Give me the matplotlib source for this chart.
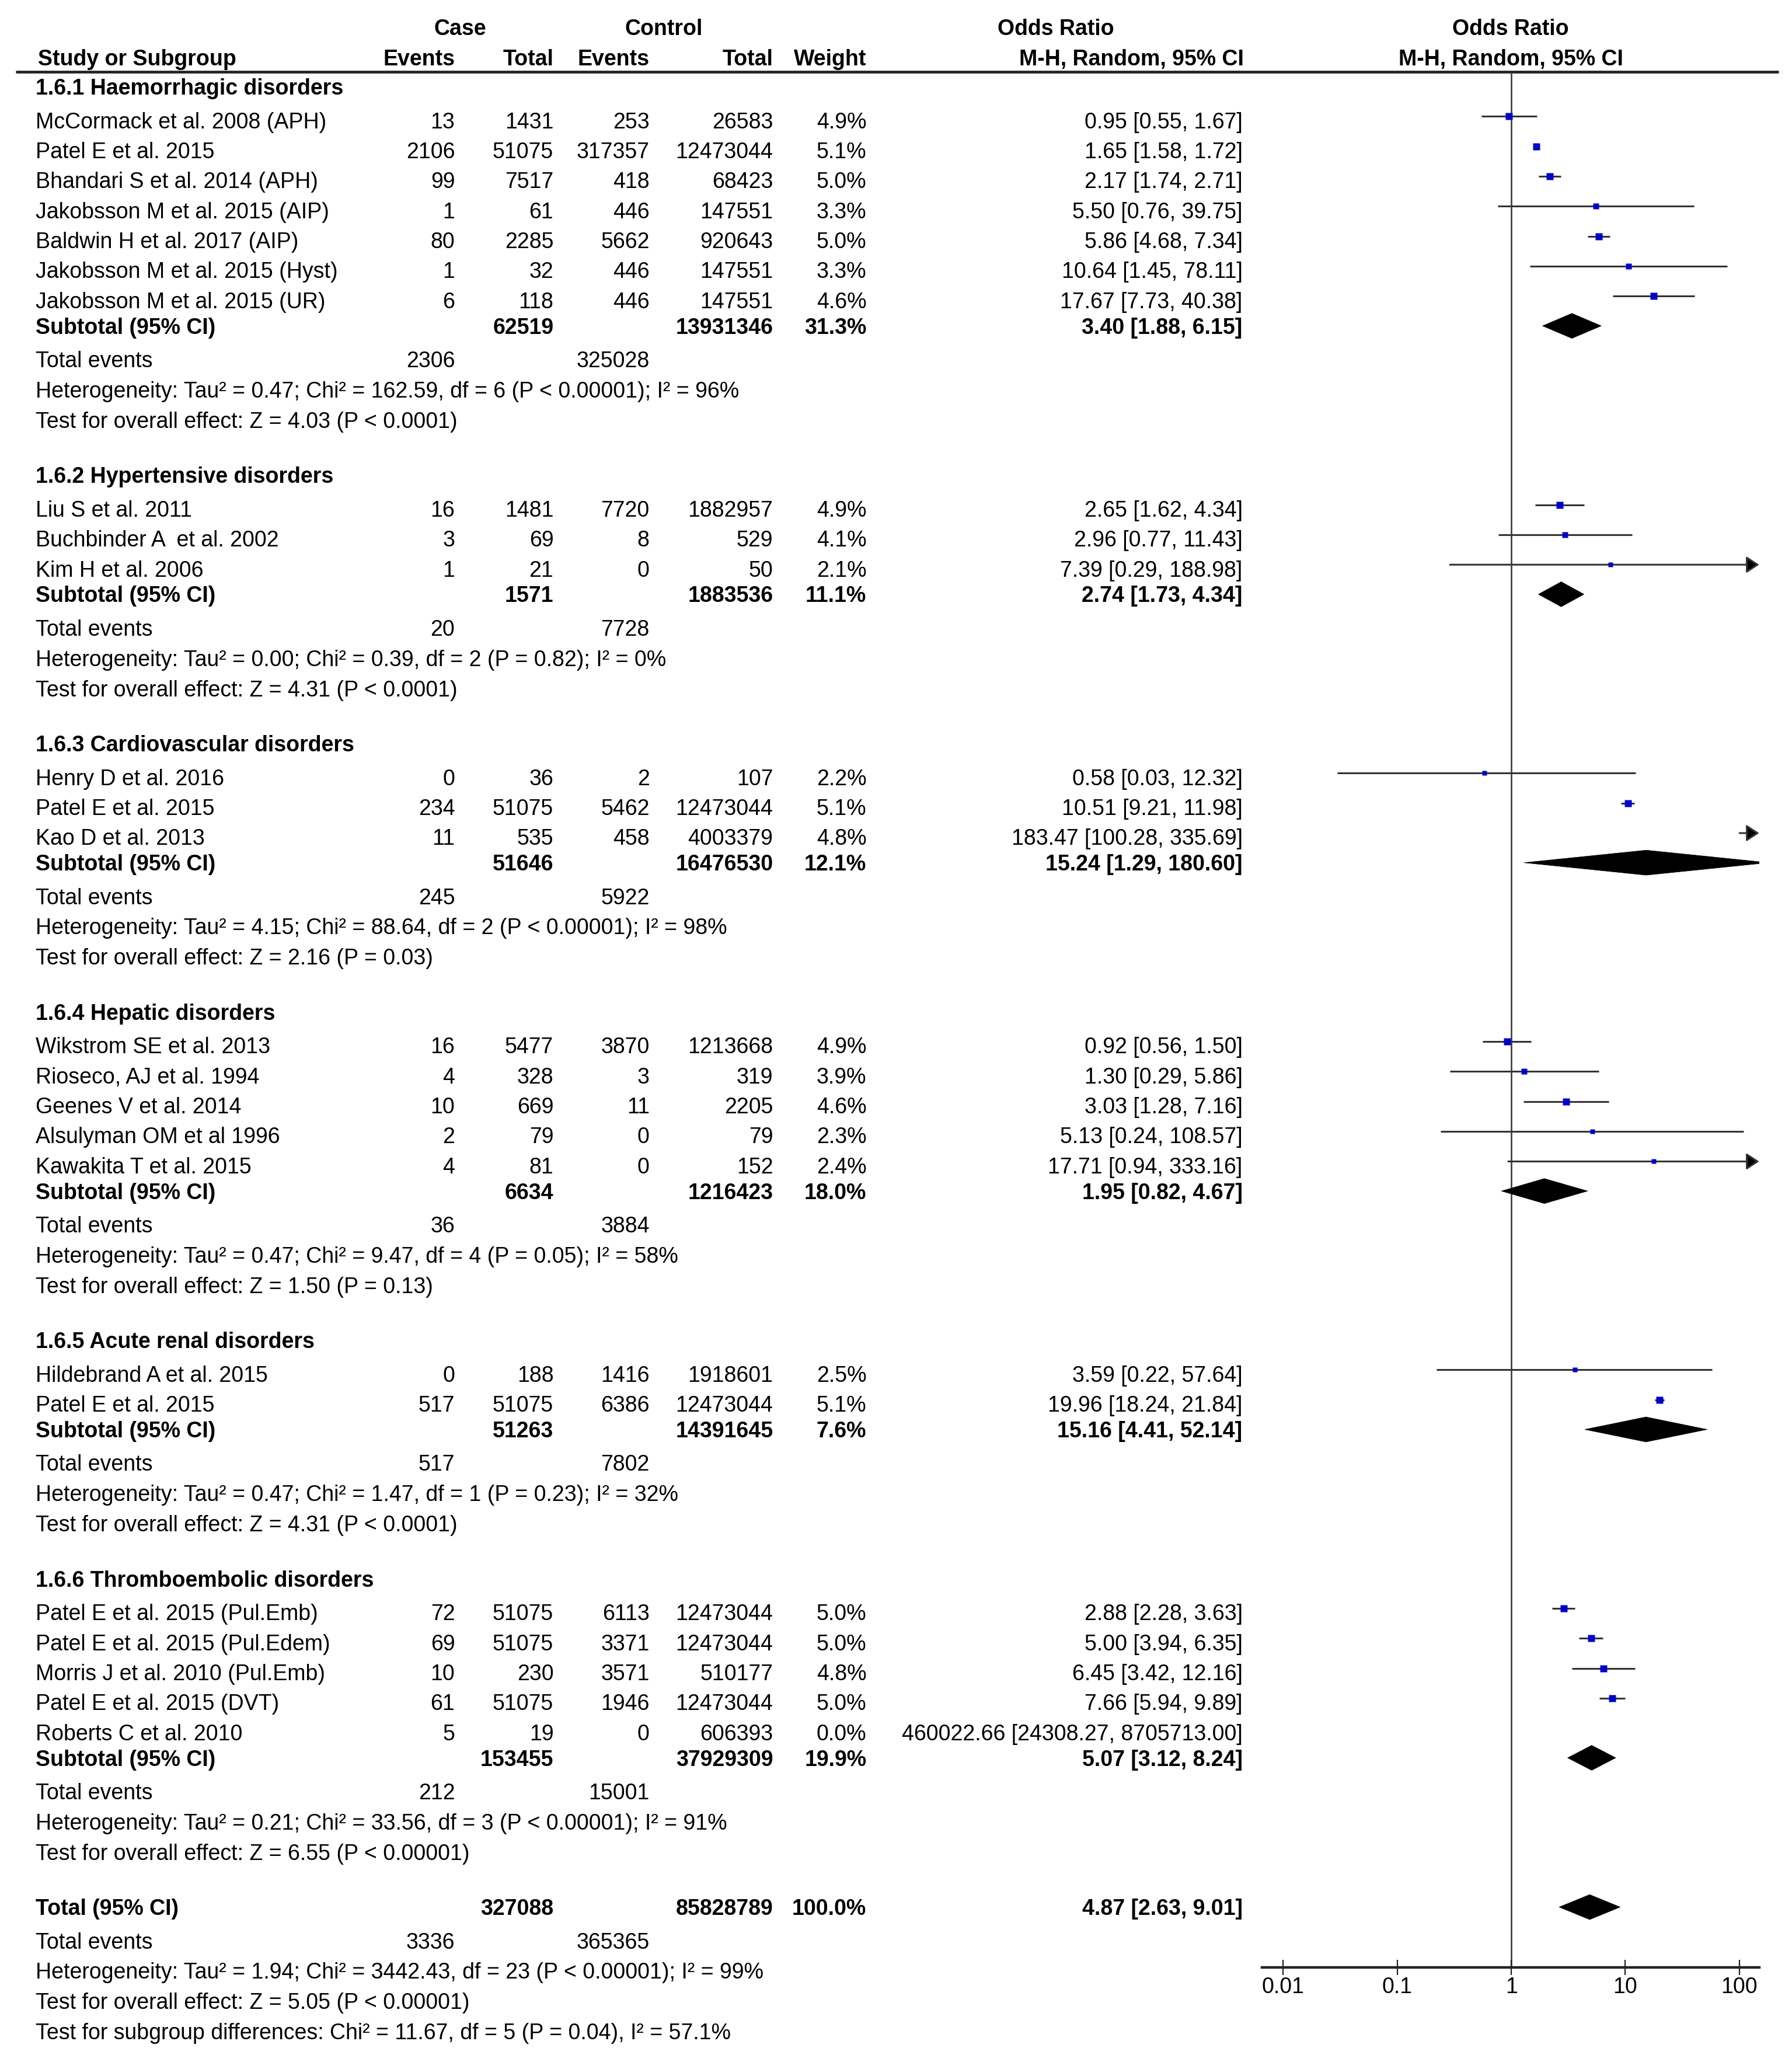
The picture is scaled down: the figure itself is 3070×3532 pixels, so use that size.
import numpy as np
import matplotlib
matplotlib.use("Agg")
import matplotlib.pyplot as plt
from matplotlib.patches import Polygon

plt.rcParams["font.family"] = ["Liberation Sans", "DejaVu Sans"]

# =============================================================================
# data
# =============================================================================
group_titles = [
    "1.6.1 Haemorrhagic disorders",
    "1.6.2 Hypertensive disorders",
    "1.6.3 Cardiovascular disorders",
    "1.6.4 Hepatic disorders",
    "1.6.5 Acute renal disorders",
    "1.6.6 Thromboembolic disorders",
]
study_group = [0] * 7 + [1] * 3 + [2] * 3 + [3] * 5 + [4] * 2 + [5] * 5
study_names = [
    "McCormack et al. 2008 (APH)", "Patel E et al. 2015", "Bhandari S et al. 2014 (APH)",
    "Jakobsson M et al. 2015 (AIP)", "Baldwin H et al. 2017 (AIP)",
    "Jakobsson M et al. 2015 (Hyst)", "Jakobsson M et al. 2015 (UR)",
    "Liu S et al. 2011", "Buchbinder A  et al. 2002", "Kim H et al. 2006",
    "Henry D et al. 2016", "Patel E et al. 2015", "Kao D et al. 2013",
    "Wikstrom SE et al. 2013", "Rioseco, AJ et al. 1994", "Geenes V et al. 2014",
    "Alsulyman OM et al 1996", "Kawakita T et al. 2015",
    "Hildebrand A et al. 2015", "Patel E et al. 2015",
    "Patel E et al. 2015 (Pul.Emb)", "Patel E et al. 2015 (Pul.Edem)",
    "Morris J et al. 2010 (Pul.Emb)", "Patel E et al. 2015 (DVT)", "Roberts C et al. 2010",
]
case_events = [13, 2106, 99, 1, 80, 1, 6, 16, 3, 1, 0, 234, 11, 16, 4, 10, 2, 4,
               0, 517, 72, 69, 10, 61, 5]
case_total = [1431, 51075, 7517, 61, 2285, 32, 118, 1481, 69, 21, 36, 51075, 535,
              5477, 328, 669, 79, 81, 188, 51075, 51075, 51075, 230, 51075, 19]
ctrl_events = [253, 317357, 418, 446, 5662, 446, 446, 7720, 8, 0, 2, 5462, 458,
               3870, 3, 11, 0, 0, 1416, 6386, 6113, 3371, 3571, 1946, 0]
ctrl_total = [26583, 12473044, 68423, 147551, 920643, 147551, 147551, 1882957, 529, 50,
              107, 12473044, 4003379, 1213668, 319, 2205, 79, 152, 1918601, 12473044,
              12473044, 12473044, 510177, 12473044, 606393]
weight = [4.9, 5.1, 5.0, 3.3, 5.0, 3.3, 4.6, 4.9, 4.1, 2.1, 2.2, 5.1, 4.8,
          4.9, 3.9, 4.6, 2.3, 2.4, 2.5, 5.1, 5.0, 5.0, 4.8, 5.0, 0.0]
or_est = [0.95, 1.65, 2.17, 5.50, 5.86, 10.64, 17.67, 2.65, 2.96, 7.39, 0.58, 10.51, 183.47,
          0.92, 1.30, 3.03, 5.13, 17.71, 3.59, 19.96, 2.88, 5.00, 6.45, 7.66, 460022.66]
or_lo = [0.55, 1.58, 1.74, 0.76, 4.68, 1.45, 7.73, 1.62, 0.77, 0.29, 0.03, 9.21, 100.28,
         0.56, 0.29, 1.28, 0.24, 0.94, 0.22, 18.24, 2.28, 3.94, 3.42, 5.94, 24308.27]
or_hi = [1.67, 1.72, 2.71, 39.75, 7.34, 78.11, 40.38, 4.34, 11.43, 188.98, 12.32, 11.98, 335.69,
         1.50, 5.86, 7.16, 108.57, 333.16, 57.64, 21.84, 3.63, 6.35, 12.16, 9.89, 8705713.00]

sub_case_total = [62519, 1571, 51646, 6634, 51263, 153455]
sub_ctrl_total = [13931346, 1883536, 16476530, 1216423, 14391645, 37929309]
sub_weight = [31.3, 11.1, 12.1, 18.0, 7.6, 19.9]
sub_est = [3.40, 2.74, 15.24, 1.95, 15.16, 5.07]
sub_lo = [1.88, 1.73, 1.29, 0.82, 4.41, 3.12]
sub_hi = [6.15, 4.34, 180.60, 4.67, 52.14, 8.24]
sub_case_events = [2306, 20, 245, 36, 517, 212]
sub_ctrl_events = [325028, 7728, 5922, 3884, 7802, 15001]
sub_het = [
    "Heterogeneity: Tau² = 0.47; Chi² = 162.59, df = 6 (P < 0.00001); I² = 96%",
    "Heterogeneity: Tau² = 0.00; Chi² = 0.39, df = 2 (P = 0.82); I² = 0%",
    "Heterogeneity: Tau² = 4.15; Chi² = 88.64, df = 2 (P < 0.00001); I² = 98%",
    "Heterogeneity: Tau² = 0.47; Chi² = 9.47, df = 4 (P = 0.05); I² = 58%",
    "Heterogeneity: Tau² = 0.47; Chi² = 1.47, df = 1 (P = 0.23); I² = 32%",
    "Heterogeneity: Tau² = 0.21; Chi² = 33.56, df = 3 (P < 0.00001); I² = 91%",
]
sub_test = [
    "Test for overall effect: Z = 4.03 (P < 0.0001)",
    "Test for overall effect: Z = 4.31 (P < 0.0001)",
    "Test for overall effect: Z = 2.16 (P = 0.03)",
    "Test for overall effect: Z = 1.50 (P = 0.13)",
    "Test for overall effect: Z = 4.31 (P < 0.0001)",
    "Test for overall effect: Z = 6.55 (P < 0.00001)",
]

total_case_total = 327088
total_ctrl_total = 85828789
total_weight = 100.0
total_est, total_lo, total_hi = 4.87, 2.63, 9.01
total_case_events = 3336
total_ctrl_events = 365365
total_het = "Heterogeneity: Tau² = 1.94; Chi² = 3442.43, df = 23 (P < 0.00001); I² = 99%"
total_test = "Test for overall effect: Z = 5.05 (P < 0.00001)"
subgroup_test = "Test for subgroup differences: Chi² = 11.67, df = 5 (P = 0.04), I² = 57.1%"

axis_ticks = [0.01, 0.1, 1, 10, 100]
axis_ticklabels = ["0.01", "0.1", "1", "10", "100"]

# =============================================================================
# layout (units = pixels of a 1363 x 1568 canvas)
# =============================================================================
W, H = 1363, 1568
FS = 27
CAP = 6.0  # half cap height, for baseline placement

X_NAME, X_CE, X_CT, X_KE, X_KT, X_W, X_OR = 27, 346, 421, 494, 588, 659, 945
AX_L, AX_R, AX_T, AX_B = 960, 1338, 55, 1496
XMIN, XMAX = 10 ** -2.184, 10 ** 2.173

fig = plt.figure(figsize=(30.70, 35.32), dpi=100)
tx = fig.add_axes([0, 0, 1, 1])
tx.set_xlim(0, W)
tx.set_ylim(H, 0)
tx.axis("off")

fx = fig.add_axes([AX_L / W, 1 - AX_B / H, (AX_R - AX_L) / W, (AX_B - AX_T) / H])
fx.patch.set_visible(False)
fx.set_xscale("log")
fx.set_xlim(XMIN, XMAX)
fx.set_ylim(AX_B, AX_T)
for s in ["top", "left", "right"]:
    fx.spines[s].set_visible(False)
fx.spines["bottom"].set_linewidth(3.2)
fx.spines["bottom"].set_color("#222222")
fx.set_xticks(axis_ticks)
fx.set_xticklabels(axis_ticklabels, fontsize=27)
fx.minorticks_off()
fx.tick_params(axis="x", direction="inout", length=19, width=1.6, pad=2, color="#222222")
fx.set_yticks([])
fx.axvline(1, color="#333333", lw=1.8, zorder=1)

LINE_C = "#333333"
SQ_C = "#0000CC"


def put(x, y, s, ha="left", bold=False):
    tx.text(x, y + CAP, s, ha=ha, va="baseline", fontsize=FS,
            fontweight="bold" if bold else "normal", color="black")


def fmt_or(e, l, h):
    return f"{e:.2f} [{l:.2f}, {h:.2f}]"


def diamond(y, est, lo, hi, hh=9.5):
    poly = Polygon([(lo, y), (est, y - hh), (hi, y), (est, y + hh)], closed=True,
                   facecolor="black", edgecolor="black", lw=0.5, zorder=3)
    fx.add_patch(poly)


def study_mark(y, est, lo, hi, w):
    lo_c, hi_c = max(lo, XMIN), min(hi, XMAX)
    if lo_c < hi_c:
        if hi > XMAX:
            fx.annotate("", xy=(XMAX, y), xytext=(lo_c, y),
                        arrowprops=dict(arrowstyle="-|>,head_length=0.55,head_width=0.36",
                                        lw=2.2, color=LINE_C, fc="black",
                                        shrinkA=0, shrinkB=0, mutation_scale=24))
        else:
            fx.hlines(y, lo_c, hi_c, color=LINE_C, lw=2.2, zorder=2)
    if XMIN < est < XMAX and w > 0:
        fx.plot(est, y, "s", color=SQ_C, ms=3.7 * np.sqrt(w), mec="none", zorder=4)


# header
put(350, 20.7, "Case", ha="center", bold=True)
put(505, 20.7, "Control", ha="center", bold=True)
put(803, 20.7, "Odds Ratio", ha="center", bold=True)
put(1149, 20.7, "Odds Ratio", ha="center", bold=True)
put(29, 43.7, "Study or Subgroup", bold=True)
put(X_CE, 43.7, "Events", ha="right", bold=True)
put(X_CT, 43.7, "Total", ha="right", bold=True)
put(X_KE, 43.7, "Events", ha="right", bold=True)
put(X_KT, 43.7, "Total", ha="right", bold=True)
put(X_W, 43.7, "Weight", ha="right", bold=True)
put(946, 43.7, "M-H, Random, 95% CI", ha="right", bold=True)
put(1149, 43.7, "M-H, Random, 95% CI", ha="center", bold=True)
tx.plot([12, 1353], [54.5, 54.5], color="#222222", lw=3.4, solid_capstyle="butt")

# body
STEP, H2S, S2SUB, SUB2EV, LINE, GAP = 22.8, 25.5, 19.5, 25.5, 23.0, 42.0
y = 66.0
for g, title in enumerate(group_titles):
    put(X_NAME, y, title, bold=True)
    idx = [i for i, sg in enumerate(study_group) if sg == g]
    y += H2S
    for k, i in enumerate(idx):
        if k > 0:
            y += STEP
        put(X_NAME, y, study_names[i])
        put(X_CE, y, str(case_events[i]), ha="right")
        put(X_CT, y, str(case_total[i]), ha="right")
        put(X_KE, y, str(ctrl_events[i]), ha="right")
        put(X_KT, y, str(ctrl_total[i]), ha="right")
        put(X_W, y, f"{weight[i]:.1f}%", ha="right")
        put(X_OR, y, fmt_or(or_est[i], or_lo[i], or_hi[i]), ha="right")
        study_mark(y - 3, or_est[i], or_lo[i], or_hi[i], weight[i])
    y += S2SUB
    put(X_NAME, y, "Subtotal (95% CI)", bold=True)
    put(X_CT, y, str(sub_case_total[g]), ha="right", bold=True)
    put(X_KT, y, str(sub_ctrl_total[g]), ha="right", bold=True)
    put(X_W, y, f"{sub_weight[g]:.1f}%", ha="right", bold=True)
    put(X_OR, y, fmt_or(sub_est[g], sub_lo[g], sub_hi[g]), ha="right", bold=True)
    diamond(y, sub_est[g], sub_lo[g], sub_hi[g])
    y += SUB2EV
    put(X_NAME, y, "Total events")
    put(X_CE, y, str(sub_case_events[g]), ha="right")
    put(X_KE, y, str(sub_ctrl_events[g]), ha="right")
    y += LINE
    put(X_NAME, y, sub_het[g])
    y += LINE
    put(X_NAME, y, sub_test[g])
    y += GAP

# overall
put(X_NAME, y, "Total (95% CI)", bold=True)
put(X_CT, y, str(total_case_total), ha="right", bold=True)
put(X_KT, y, str(total_ctrl_total), ha="right", bold=True)
put(X_W, y, f"{total_weight:.1f}%", ha="right", bold=True)
put(X_OR, y, fmt_or(total_est, total_lo, total_hi), ha="right", bold=True)
diamond(y, total_est, total_lo, total_hi)
y += SUB2EV
put(X_NAME, y, "Total events")
put(X_CE, y, str(total_case_events), ha="right")
put(X_KE, y, str(total_ctrl_events), ha="right")
y += LINE
put(X_NAME, y, total_het)
y += LINE
put(X_NAME, y, total_test)
y += LINE
put(X_NAME, y, subgroup_test)

fig.savefig("out.png", dpi=100, facecolor="white")
